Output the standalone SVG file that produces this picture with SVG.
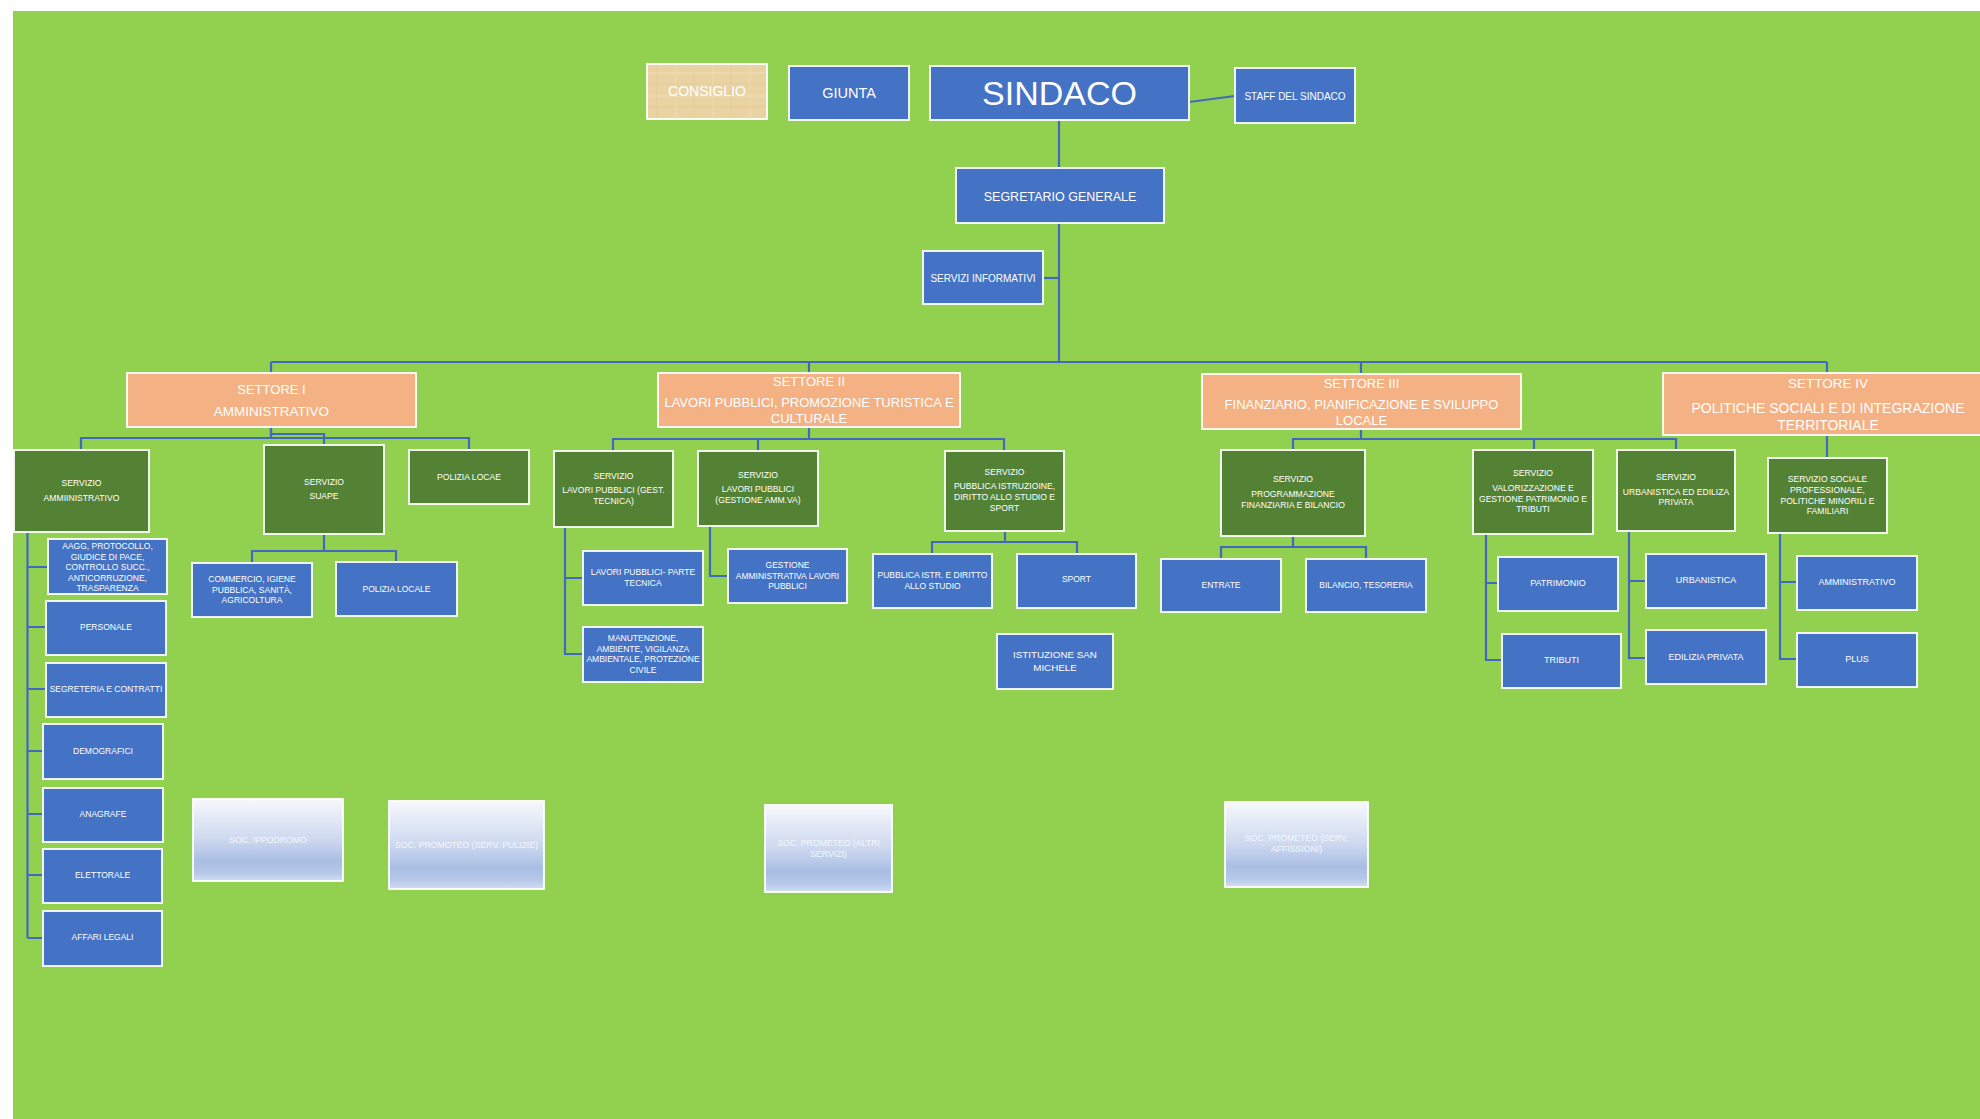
<svg xmlns="http://www.w3.org/2000/svg" width="1980" height="1119" viewBox="0 0 1980 1119">
<style>
.blue{fill:#4472c4;stroke:#fff;stroke-width:1.8}
.dg{fill:#548235;stroke:#fff;stroke-width:1.8}
.sal{fill:#f4b183;stroke:#fff;stroke-width:1.8}
.soc{fill:url(#socg);stroke:#fff;stroke-width:1.8}
.pap{fill:url(#papyrus);stroke:#fff;stroke-width:1.8}
.conn path{stroke:#4169bd;stroke-width:2.2;fill:none}
text{font-family:"Liberation Sans",Arial,sans-serif;fill:#fff;text-anchor:middle;dominant-baseline:central}
.s3{font-size:8.5px}
.s9{font-size:9px}
.dgt{font-size:8.6px}
.sec{font-size:13px}
.soct{font-size:8.7px;fill:#f4f6fb}
</style>
<defs>
<linearGradient id="socg" x1="0" y1="0" x2="0" y2="1">
<stop offset="0" stop-color="#f6f8fc"/>
<stop offset="0.5" stop-color="#cdd8ef"/>
<stop offset="0.76" stop-color="#a9bee4"/>
<stop offset="0.9" stop-color="#b6c8e9"/>
<stop offset="1" stop-color="#d3ddf1"/>
</linearGradient>
<pattern id="papyrus" patternUnits="userSpaceOnUse" width="37" height="23">
<rect width="37" height="23" fill="#e9d3a3"/>
<rect x="0" y="3" width="37" height="2" fill="#efdfb6" opacity="0.6"/>
<rect x="0" y="14" width="37" height="1.5" fill="#e2c994" opacity="0.5"/>
<rect x="9" y="0" width="2" height="23" fill="#eedcb0" opacity="0.4"/>
<rect x="27" y="0" width="1.5" height="23" fill="#e0c690" opacity="0.35"/>
</pattern>
</defs>
<rect width="1980" height="1119" fill="#fff"/>
<rect x="13" y="11" width="1967" height="1108" fill="#92d050"/>

<g id="connectors" class="conn">
<path d="M1059,120 V362"/>
<path d="M1189,102 L1235,96"/>
<path d="M1043,278 H1059"/>
<path d="M271,362 H1827"/>
<path d="M271,362 V373 M809,362 V373 M1361,362 V374 M1827,362 V373"/>
<path d="M271,427 V438 M81,450 V438 H469 V450"/>
<path d="M271,427 V434 H324 V445"/>
<path d="M27.5,532 V938 M27.5,567 H48 M27.5,627 H46 M27.5,689 H46 M27.5,751 H43 M27.5,814 H43 M27.5,875 H43 M27.5,938 H43"/>
<path d="M324,534 V551 M252,563 V551 H396 V562"/>
<path d="M809,427 V439 M613,451 V439 H1004 V451 M758,439 V451"/>
<path d="M565,527 V654 H583 M565,578 H583"/>
<path d="M710,526 V576 H728"/>
<path d="M1005,531 V542 M932,554 V542 H1077 V554"/>
<path d="M1361,429 V439 M1293,450 V439 H1676 V450 M1534,439 V450"/>
<path d="M1293,536 V547 M1221,559 V547 H1366 V559"/>
<path d="M1486,534 V660 H1502 M1486,583 H1498"/>
<path d="M1629,531 V658 H1646 M1629,581 H1646"/>
<path d="M1827,435 V458"/>
<path d="M1780,533 V659 H1797 M1780,582 H1797"/>
</g>

<g id="consiglio"><rect class="pap" x="647" y="64" width="120" height="55"/><text x="707" y="91" style="font-size:14px">CONSIGLIO</text></g>
<g id="giunta"><rect class="blue" x="789" y="66" width="120" height="54"/><text x="849" y="93" style="font-size:14.5px">GIUNTA</text></g>
<g id="sindaco"><rect class="blue" x="930" y="66" width="259" height="54"/><text x="1059.5" y="93" style="font-size:34px">SINDACO</text></g>
<g id="staff"><rect class="blue" x="1235" y="68" width="120" height="55"/><text x="1295" y="96" style="font-size:10px">STAFF DEL SINDACO</text></g>
<g id="segretario"><rect class="blue" x="956" y="168" width="208" height="55"/><text x="1060" y="197" style="font-size:12.5px">SEGRETARIO GENERALE</text></g>
<g id="servizi-informativi"><rect class="blue" x="923" y="251" width="120" height="53"/><text x="983" y="278" style="font-size:10px">SERVIZI INFORMATIVI</text></g>

<g id="settore-1"><rect class="sal" x="127" y="373" width="289" height="54"/><text class="sec" x="271.5" y="389">SETTORE I</text><text x="271.5" y="411" style="font-size:13.5px">AMMINISTRATIVO</text></g>
<g id="settore-2"><rect class="sal" x="658" y="373" width="302" height="54"/><text class="sec" x="809" y="381">SETTORE II</text><text class="sec" x="809" y="402">LAVORI PUBBLICI, PROMOZIONE TURISTICA E</text><text class="sec" x="809" y="418">CULTURALE</text></g>
<g id="settore-3"><rect class="sal" x="1202" y="374" width="319" height="55"/><text class="sec" x="1361.5" y="383">SETTORE III</text><text class="sec" x="1361.5" y="404">FINANZIARIO, PIANIFICAZIONE E SVILUPPO</text><text class="sec" x="1361.5" y="420">LOCALE</text></g>
<g id="settore-4"><rect class="sal" x="1663" y="373" width="330" height="62"/><text x="1828" y="383" style="font-size:13.5px">SETTORE IV</text><text x="1828" y="408" style="font-size:14px">POLITICHE SOCIALI E DI INTEGRAZIONE</text><text x="1828" y="425" style="font-size:14px">TERRITORIALE</text></g>

<g id="servizio-amministrativo"><rect class="dg" x="14" y="450" width="135" height="82"/><text class="dgt" x="81.5" y="483">SERVIZIO</text><text class="dgt" x="81.5" y="498">AMMIINISTRATIVO</text></g>
<g id="servizio-suape"><rect class="dg" x="264" y="445" width="120" height="89"/><text class="dgt" x="324" y="482">SERVIZIO</text><text class="dgt" x="324" y="496">SUAPE</text></g>
<g id="polizia-locae"><rect class="dg" x="409" y="450" width="120" height="54"/><text class="dgt" x="469" y="477">POLIZIA LOCAE</text></g>

<g id="aagg"><rect class="blue" x="48" y="539" width="119" height="55"/><text class="s3" x="107.5" y="546">AAGG, PROTOCOLLO,</text><text class="s3" x="107.5" y="556.5">GIUDICE DI PACE,</text><text class="s3" x="107.5" y="567">CONTROLLO SUCC.,</text><text class="s3" x="107.5" y="577.5">ANTICORRUZIONE,</text><text class="s3" x="107.5" y="588">TRASPARENZA</text></g>
<g id="personale"><rect class="blue" x="46" y="601" width="120" height="54"/><text class="s3" x="106" y="627">PERSONALE</text></g>
<g id="segreteria"><rect class="blue" x="46" y="663" width="120" height="54"/><text class="s3" x="106" y="689">SEGRETERIA E CONTRATTI</text></g>
<g id="demografici"><rect class="blue" x="43" y="724" width="120" height="55"/><text class="s3" x="103" y="751">DEMOGRAFICI</text></g>
<g id="anagrafe"><rect class="blue" x="43" y="788" width="120" height="54"/><text class="s3" x="103" y="814">ANAGRAFE</text></g>
<g id="elettorale"><rect class="blue" x="43" y="849" width="119" height="54"/><text class="s3" x="102.5" y="875">ELETTORALE</text></g>
<g id="affari-legali"><rect class="blue" x="43" y="911" width="119" height="55"/><text class="s3" x="102.5" y="937">AFFARI LEGALI</text></g>
<g id="commercio"><rect class="blue" x="192" y="563" width="120" height="54"/><text class="s3" x="252" y="579">COMMERCIO, IGIENE</text><text class="s3" x="252" y="589.5">PUBBLICA, SANITÀ,</text><text class="s3" x="252" y="600">AGRICOLTURA</text></g>
<g id="polizia-locale"><rect class="blue" x="336" y="562" width="121" height="54"/><text class="s3" x="396.5" y="589">POLIZIA LOCALE</text></g>

<g id="lp-gest-tecnica"><rect class="dg" x="554" y="451" width="119" height="76"/><text class="dgt" x="613.5" y="476">SERVIZIO</text><text class="dgt" x="613.5" y="490">LAVORI PUBBLICI (GEST.</text><text class="dgt" x="613.5" y="501">TECNICA)</text></g>
<g id="lp-gest-amm"><rect class="dg" x="698" y="451" width="120" height="75"/><text class="dgt" x="758" y="475">SERVIZIO</text><text class="dgt" x="758" y="489">LAVORI PUBBLICI</text><text class="dgt" x="758" y="500">(GESTIONE AMM.VA)</text></g>
<g id="pubblica-istruzione"><rect class="dg" x="945" y="451" width="119" height="80"/><text class="dgt" x="1004.5" y="472">SERVIZIO</text><text class="dgt" x="1004.5" y="486">PUBBLICA ISTRUZIOINE,</text><text class="dgt" x="1004.5" y="497">DIRITTO ALLO STUDIO E</text><text class="dgt" x="1004.5" y="508">SPORT</text></g>
<g id="lp-parte-tecnica"><rect class="blue" x="583" y="551" width="120" height="54"/><text class="s3" x="643" y="572">LAVORI PUBBLICI- PARTE</text><text class="s3" x="643" y="582.5">TECNICA</text></g>
<g id="manutenzione"><rect class="blue" x="583" y="627" width="120" height="55"/><text class="s3" x="643" y="638">MANUTENZIONE,</text><text class="s3" x="643" y="648.5">AMBIENTE, VIGILANZA</text><text class="s3" x="643" y="659">AMBIENTALE, PROTEZIONE</text><text class="s3" x="643" y="669.5">CIVILE</text></g>
<g id="gestione-amm-lp"><rect class="blue" x="728" y="549" width="119" height="54"/><text class="s3" x="787.5" y="565">GESTIONE</text><text class="s3" x="787.5" y="575.5">AMMINISTRATIVA LAVORI</text><text class="s3" x="787.5" y="586">PUBBLICI</text></g>
<g id="pubblica-istr-diritto"><rect class="blue" x="873" y="554" width="119" height="54"/><text class="s3" x="932.5" y="575">PUBBLICA ISTR. E DIRITTO</text><text class="s3" x="932.5" y="585.5">ALLO STUDIO</text></g>
<g id="sport"><rect class="blue" x="1017" y="554" width="119" height="54"/><text class="s3" x="1076.5" y="579">SPORT</text></g>
<g id="istituzione-san-michele"><rect class="blue" x="997" y="634" width="116" height="55"/><text x="1055" y="654" style="font-size:9.8px">ISTITUZIONE SAN</text><text x="1055" y="667" style="font-size:9.8px">MICHELE</text></g>

<g id="programmazione"><rect class="dg" x="1221" y="450" width="144" height="86"/><text class="dgt" x="1293" y="479">SERVIZIO</text><text class="dgt" x="1293" y="494">PROGRAMMAZIONE</text><text class="dgt" x="1293" y="505">FINANZIARIA E BILANCIO</text></g>
<g id="valorizzazione"><rect class="dg" x="1473" y="450" width="120" height="84"/><text class="dgt" x="1533" y="473">SERVIZIO</text><text class="dgt" x="1533" y="488">VALORIZZAZIONE E</text><text class="dgt" x="1533" y="499">GESTIONE PATRIMONIO E</text><text class="dgt" x="1533" y="509">TRIBUTI</text></g>
<g id="urbanistica-edilizia"><rect class="dg" x="1617" y="450" width="118" height="81"/><text class="dgt" x="1676" y="477">SERVIZIO</text><text class="dgt" x="1676" y="492">URBANISTICA ED EDILIZA</text><text class="dgt" x="1676" y="502">PRIVATA</text></g>
<g id="servizio-sociale"><rect class="dg" x="1768" y="458" width="119" height="75"/><text class="dgt" x="1827.5" y="479">SERVIZIO SOCIALE</text><text class="dgt" x="1827.5" y="490">PROFESSIONALE,</text><text class="dgt" x="1827.5" y="501">POLITICHE MINORILI E</text><text class="dgt" x="1827.5" y="511">FAMILIARI</text></g>
<g id="entrate"><rect class="blue" x="1161" y="559" width="120" height="53"/><text class="s3" x="1221" y="585">ENTRATE</text></g>
<g id="bilancio"><rect class="blue" x="1306" y="559" width="120" height="53"/><text class="s3" x="1366" y="585">BILANCIO, TESORERIA</text></g>
<g id="patrimonio"><rect class="blue" x="1498" y="557" width="120" height="54"/><text class="s9" x="1558" y="583">PATRIMONIO</text></g>
<g id="tributi"><rect class="blue" x="1502" y="634" width="119" height="54"/><text class="s9" x="1561.5" y="660">TRIBUTI</text></g>
<g id="urbanistica"><rect class="blue" x="1646" y="554" width="120" height="54"/><text class="s9" x="1706" y="580">URBANISTICA</text></g>
<g id="edilizia-privata"><rect class="blue" x="1646" y="630" width="120" height="54"/><text class="s9" x="1706" y="657">EDILIZIA PRIVATA</text></g>
<g id="amministrativo"><rect class="blue" x="1797" y="556" width="120" height="54"/><text class="s9" x="1857" y="582">AMMINISTRATIVO</text></g>
<g id="plus"><rect class="blue" x="1797" y="633" width="120" height="54"/><text class="s9" x="1857" y="659">PLUS</text></g>

<g id="soc-ippodromo"><rect class="soc" x="193" y="799" width="150" height="82"/><text class="soct" x="268" y="840">SOC. IPPODROMO</text></g>
<g id="soc-promoteo-pulizie"><rect class="soc" x="389" y="801" width="155" height="88"/><text class="soct" x="466.5" y="845">SOC. PROMOTEO (SERV. PULIZIE)</text></g>
<g id="soc-prometeo-altri"><rect class="soc" x="765" y="805" width="127" height="87"/><text class="soct" x="828.5" y="843">SOC. PROMETEO (ALTRI</text><text class="soct" x="828.5" y="853.5">SERVIZI)</text></g>
<g id="soc-prometeo-affissioni"><rect class="soc" x="1225" y="802" width="143" height="85"/><text class="soct" x="1296.5" y="838">SOC. PROMETEO (SERV.</text><text class="soct" x="1296.5" y="849">AFFISSIONI)</text></g>
</svg>
